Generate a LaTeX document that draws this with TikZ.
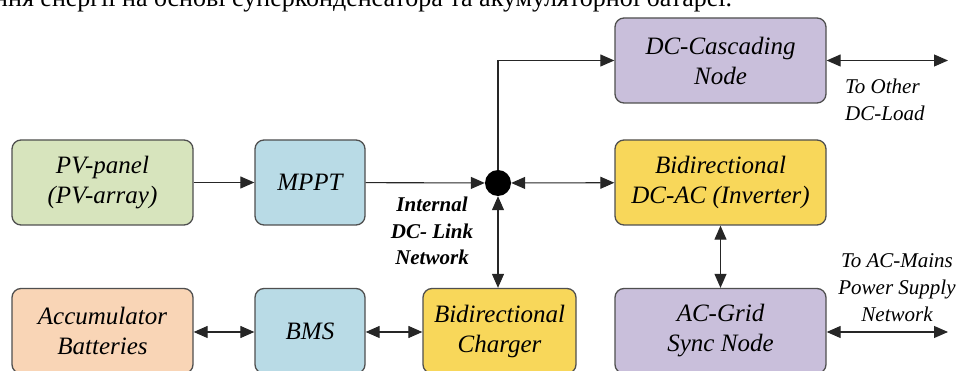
\documentclass[tikz,border=0pt]{standalone}
\usepackage{fontspec}
\setmainfont{Liberation Serif}[
  UprightFont={Liberation Serif},
  ItalicFont={Liberation Serif Italic},
  BoldFont={Liberation Serif Bold},
  BoldItalicFont={Liberation Serif Bold Italic}]
\usetikzlibrary{arrows.meta}

\definecolor{boxedge}{HTML}{4F4F4F}
\definecolor{lavender}{HTML}{C9BFDB}
\definecolor{sage}{HTML}{D7E4BD}
\definecolor{skyblue}{HTML}{B9DBE6}
\definecolor{amber}{HTML}{F8D75A}
\definecolor{peach}{HTML}{F9D5B6}

\tikzset{
  block/.style={draw=boxedge, line width=1.3pt, rounded corners=9pt,
    minimum height=85pt, align=center, inner sep=2pt,
    font=\fontsize{25}{30}\selectfont\itshape},
  wide/.style={block, minimum width=211pt},
  mid/.style={block, minimum width=181pt},
  small/.style={block, minimum width=110pt},
  junction/.style={circle, fill=black, minimum size=26pt, inner sep=0pt},
  link/.style={line width=1.1pt, draw=black!85,
    -{Triangle[length=14pt, width=12pt]}},
  duplex/.style={line width=1.1pt, draw=black!85,
    {Triangle[length=14pt, width=12pt]}-{Triangle[length=14pt, width=12pt]}},
  caption/.style={align=center, inner sep=0pt,
    font=\fontsize{21}{27}\selectfont\itshape},
}

\begin{document}
\begin{tikzpicture}[x=1pt, y=-1pt]
\useasboundingbox (0,0) rectangle (962,371);

% last line of the preceding paragraph, cut by the page edge
\begin{scope}
  \clip (0,0) rectangle (962,371);
  \node[anchor=base west, inner sep=0pt, font=\fontsize{26}{30}\selectfont]
    (runin) at (-6,7) {ння енергії на основі суперконденсатора та акумуляторної батареї.};
\end{scope}

% blocks
\node[wide, fill=lavender] (casc) at (720.5,60.5) {DC-Cascading\\Node};
\node[mid, fill=sage] (pv) at (102.5,182.5) {PV-panel\\(PV-array)};
\node[small, fill=skyblue] (mppt) at (310,182.5) {MPPT};
\node[junction] (bus) at (498,183) {};
\node[wide, fill=amber] (dcac) at (720.5,182.5) {Bidirectional\\DC-AC (Inverter)};

\begin{scope}
  \clip (0,0) rectangle (962,371);
  \node[mid, fill=peach] (acc) at (102.5,331) {Accumulator\\Batteries};
  \node[small, fill=skyblue] (bms) at (310,331) {BMS};
  \node[block, minimum width=153pt, fill=amber] (chg) at (499.5,331) {Bidirectional\\Charger};
  \node[wide, fill=lavender] (grid) at (720.5,331) {AC-Grid\\Sync Node};
\end{scope}

% free ends of the outgoing links
\coordinate (dcout) at (948,60.5);
\coordinate (acout) at (948,332);
\coordinate (bend) at (bus |- casc);

% connectors
\draw[link] (pv) -- (mppt);
\draw[link] (mppt) -- (bus);
\draw[duplex] (bus) -- (dcac);
\draw[link] (bus.north) -- (bend) -- (casc.west);
\draw[duplex] (bus) -- (bus |- chg.north);
\draw[duplex] (acc.east |- 0,332) -- (bms.west |- 0,332);
\draw[duplex] (bms.east |- 0,332) -- (chg.west |- 0,332);
\draw[duplex] (dcac) -- (grid);
\draw[duplex] (casc.east) -- (dcout);
\draw[duplex] (grid.east |- acout) -- (acout);

% labels
\node[caption, font=\fontsize{21}{26.5}\selectfont\bfseries\itshape] (dclink)
  at (432,231) {Internal\\DC- Link\\Network};
\node[caption, align=left, anchor=north west] (dcload) at (845,79) {To Other\\DC-Load};
\node[caption, anchor=south] (acmains) at (897,322) {To AC-Mains\\Power Supply\\Network};
\end{tikzpicture}
\end{document}
